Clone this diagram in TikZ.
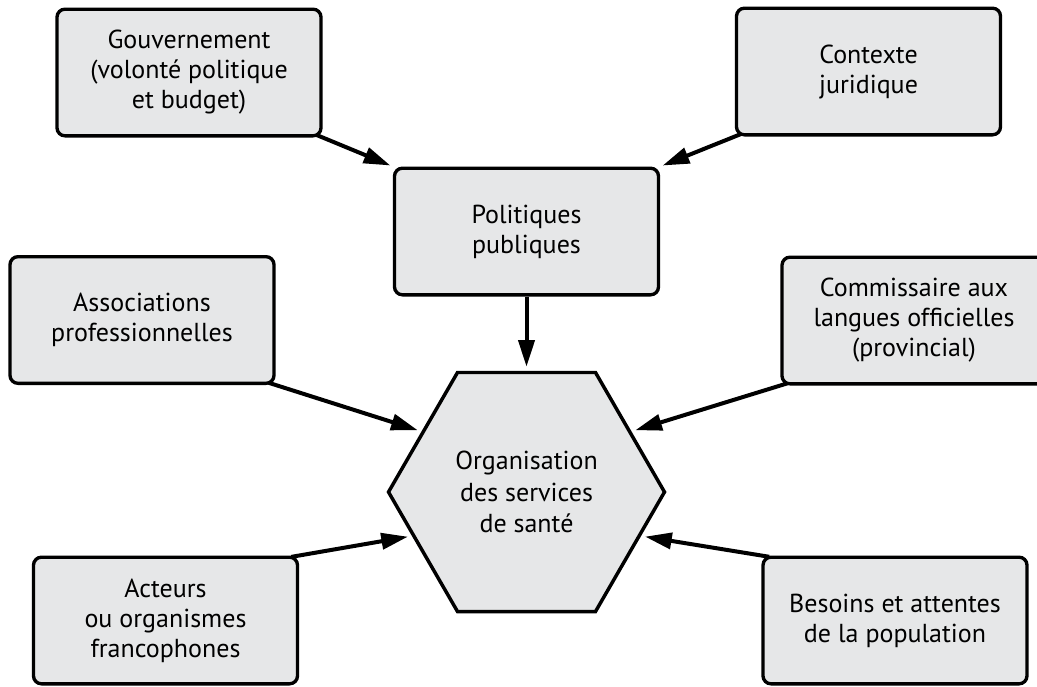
\documentclass[tikz,border=0pt]{standalone}
\usepackage{fontspec}
\setmainfont{PT Sans}
\usetikzlibrary{arrows.meta,shapes.geometric}
\definecolor{boxfill}{RGB}{230,231,232}
\pgfdeclarelayer{bg}
\pgfsetlayers{bg,main}
\begin{document}
\begin{tikzpicture}[x=0.75pt,y=-0.75pt,
  box/.style={draw=black, line width=2.5pt, fill=boxfill, rounded corners=6pt,
    minimum width=198pt, minimum height=95pt, align=center, inner sep=0pt,
    font=\fontsize{19.5}{22.5}\selectfont},
  hexnode/.style={draw=black, line width=2.6pt, fill=boxfill, regular polygon,
    regular polygon sides=6, minimum size=207pt, inner sep=0pt, align=center,
    font=\fontsize{19.5}{23.5}\selectfont},
  arr/.style={line width=3pt, -{Triangle[length=20pt,width=12pt]}, shorten <=-6pt}]
\clip (0,0) rectangle (1037,686);
\node[box] (gov) at (189,72.5) {Gouvernement\\(volonté politique\\et budget)};
\node[box] (ctx) at (868.5,71.5) {Contexte\\juridique};
\node[box] (pol) at (526.5,231.5) {Politiques\\publiques};
\node[box] (assoc) at (142,320) {Associations\\professionnelles};
\node[box] (comm) at (914,320.5) {Commissaire aux\\langues officielles\\(provincial)};
\node[box] (act) at (165.5,620.5) {Acteurs\\ou organismes\\francophones};
\node[box] (bes) at (895,620.5) {Besoins et attentes\\de la population};
\node[hexnode] (org) at (526.5,492) {Organisation\\des services\\de santé};
\begin{pgfonlayer}{bg}
\draw[arr, shorten >=2pt] (gov.south east) -- (pol.north west);
\draw[arr, shorten >=2pt] (ctx.south west) -- (pol.north east);
\draw[arr, shorten <=0pt, shorten >=3pt] (pol.south) -- (org.90);
\draw[arr, shorten >=3pt] (assoc.south east) -- (org.150);
\draw[arr, shorten >=3pt] (comm.south west) -- (org.30);
\draw[arr, shorten >=3pt] (act.north east) -- (org.201);
\draw[arr, shorten >=3pt] (bes.north west) -- (org.339);
\end{pgfonlayer}
\end{tikzpicture}
\end{document}
